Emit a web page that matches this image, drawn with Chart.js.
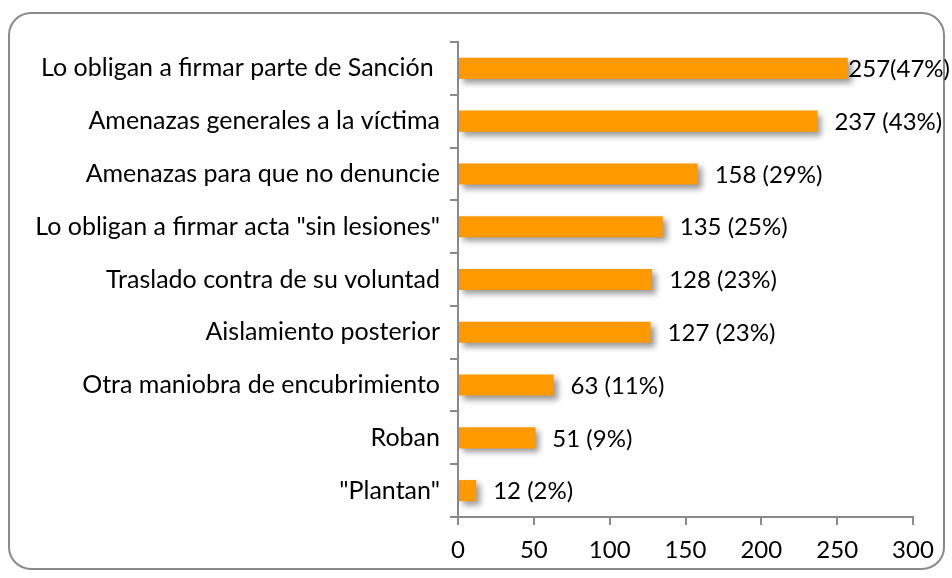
<!DOCTYPE html>
<html>
<head>
<meta charset="utf-8">
<script src="https://cdn.jsdelivr.net/npm/chart.js@4"></script>
<style>
  html, body { margin: 0; padding: 0; background: #fff; }
  #wrap { width: 952px; height: 578px; }
</style>
</head>
<body>
<div id="wrap"><canvas id="ourChart" width="952" height="578"></canvas></div>
<script>
const categories = [
    'Lo obligan a firmar parte de Sanción ',
    'Amenazas generales a la víctima',
    'Amenazas para que no denuncie',
    'Lo obligan a firmar acta "sin lesiones"',
    'Traslado contra de su voluntad',
    'Aislamiento posterior',
    'Otra maniobra de encubrimiento',
    'Roban',
    '"Plantan"'
];
const counts = [257, 237, 158, 135, 128, 127, 63, 51, 12];
const valueLabels = ['257(47%)', '237 (43%)', '158 (29%)', '135 (25%)', '128 (23%)', '127 (23%)', '63 (11%)', '51 (9%)', '12 (2%)'];

const fontFamily = 'Lato, "Open Sans", sans-serif';
const fontSize = 24;

const frame = {
    id: 'frame',
    beforeDraw(chart) {
        const c = chart.ctx;
        c.save();
        c.fillStyle = '#fff';
        c.fillRect(0, 0, chart.width, chart.height);
        c.strokeStyle = '#8a8a8a';
        c.lineWidth = 2;
        c.beginPath();
        c.roundRect(9, 13, 935, 556, 22);
        c.stroke();
        c.restore();
    }
};

const shadow = {
    id: 'shadow',
    beforeDatasetsDraw(chart) {
        const c = chart.ctx;
        c.save();
        c.shadowColor = 'rgba(0,0,0,0.4)';
        c.shadowBlur = 6;
        c.shadowOffsetX = 4;
        c.shadowOffsetY = 4;
    },
    afterDatasetsDraw(chart) {
        chart.ctx.restore();
    }
};

// value labels sit 17px past the bar end, pulled back if they would leave the canvas
const valueText = {
    id: 'valueText',
    afterDatasetsDraw(chart) {
        const c = chart.ctx;
        const meta = chart.getDatasetMeta(0);
        c.save();
        c.font = fontSize + 'px ' + fontFamily;
        c.fillStyle = '#000';
        c.textAlign = 'left';
        c.textBaseline = 'middle';
        meta.data.forEach((bar, i) => {
            const w = c.measureText(valueLabels[i]).width;
            const x = Math.min(bar.x + 17, 950 - w);
            c.fillText(valueLabels[i], x, bar.y + 1);
        });
        c.restore();
    }
};

new Chart(document.getElementById('ourChart'), {
    type: 'bar',
    data: {
        labels: categories,
        datasets: [
            {
                data: counts,
                backgroundColor: '#ff9900',
                borderWidth: 0,
                categoryPercentage: 1,
                barPercentage: 0.4,
            },
        ]
    },
    options: {
        indexAxis: 'y',
        responsive: false,
        animation: false,
        layout: { padding: { top: 42, right: 39, left: 0, bottom: 0 } },
        plugins: {
            legend: { display: false },
            tooltip: { enabled: false },
        },
        scales: {
            x: {
                min: 0,
                max: 300,
                afterFit: s => { s.height = 61; },
                ticks: {
                    stepSize: 50,
                    color: '#000',
                    padding: 11,
                    font: { family: fontFamily, size: fontSize },
                },
                grid: {
                    drawOnChartArea: false,
                    color: '#8a8a8a',
                    lineWidth: 2,
                    tickLength: 8,
                },
                border: { color: '#8a8a8a', width: 2 },
            },
            y: {
                afterFit: s => { s.width = 458; },
                ticks: {
                    color: '#000',
                    padding: 10,
                    font: { family: fontFamily, size: 25 },
                },
                grid: {
                    drawOnChartArea: false,
                    color: '#8a8a8a',
                    lineWidth: 2,
                    tickLength: 8,
                    offset: true,
                },
                border: { color: '#8a8a8a', width: 2 },
            },
        },
    },
    plugins: [frame, shadow, valueText]
});
</script>
</body>
</html>
